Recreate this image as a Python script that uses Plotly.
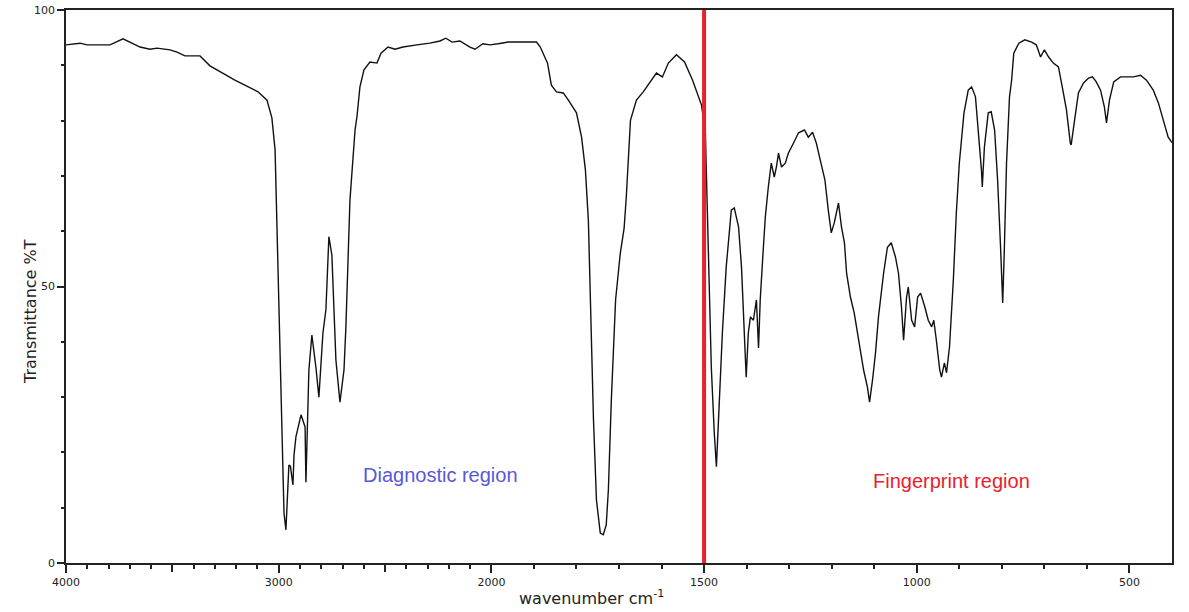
import plotly.graph_objects as go

# IR spectrum: wavenumber (cm-1) and % transmittance
wavenumber = [
    4000, 3934, 3901, 3793, 3732, 3652, 3605, 3572, 3511, 3478, 3441, 3370, 3323,
    3276, 3206, 3159, 3097, 3055, 3032, 3017, 2994, 2985, 2975, 2966, 2952, 2945,
    2933, 2928, 2919, 2895, 2876, 2872, 2867, 2858, 2844, 2825, 2811, 2792, 2778,
    2764, 2750, 2731, 2712, 2693, 2684, 2665, 2641, 2632, 2618, 2599, 2571, 2538,
    2519, 2486, 2453, 2416, 2350, 2289, 2242, 2214, 2185, 2148, 2101, 2077, 2040,
    2007, 1984, 1960, 1894, 1885, 1868, 1859, 1847, 1831, 1819, 1800, 1788, 1779,
    1772, 1765, 1760, 1753, 1744, 1737, 1730, 1725, 1718, 1708, 1697, 1688, 1683,
    1673, 1659, 1643, 1626, 1612, 1598, 1584, 1565, 1546, 1527, 1513, 1506, 1497,
    1494, 1487, 1483, 1476, 1471, 1464, 1457, 1448, 1436, 1429, 1419, 1412, 1408,
    1403, 1401, 1396, 1391, 1384, 1377, 1372, 1368, 1361, 1356, 1349, 1342, 1335,
    1330, 1325, 1318, 1309, 1302, 1290, 1278, 1264, 1255, 1245, 1236, 1227, 1216,
    1208, 1201, 1194, 1184, 1177, 1170, 1165, 1156, 1147, 1137, 1125, 1116, 1111,
    1104, 1097, 1090, 1078, 1069, 1060, 1050, 1043, 1036, 1031, 1024, 1020, 1012,
    1005, 998, 991, 981, 973, 965, 960, 954, 946, 942, 935, 930, 923, 914, 907,
    900, 889, 879, 871, 862, 855, 848, 846, 841, 832, 825, 817, 810, 803, 798, 794,
    789, 782, 777, 772, 760, 746, 730, 719, 709, 700, 690, 679, 667, 658, 648, 639,
    637, 629, 620, 608, 596, 587, 578, 568, 559, 554, 547, 537, 521, 491, 474, 460,
    444, 432, 420, 409, 400,
]
transmittance = [
    93.7, 94.0, 93.7, 93.7, 94.8, 93.3, 92.9, 93.1, 92.8, 92.4, 91.7, 91.7, 89.9,
    88.8, 87.3, 86.4, 85.2, 83.7, 80.5, 74.7, 37.1, 19.9, 9.0, 6.0, 17.7, 17.5,
    14.1, 19.5, 22.8, 26.8, 24.6, 14.6, 22.2, 34.9, 41.2, 35.4, 30.0, 41.6, 45.8,
    59.0, 55.7, 36.7, 29.1, 34.9, 42.7, 65.6, 78.3, 80.7, 86.1, 89.2, 90.6, 90.4,
    92.2, 93.3, 92.9, 93.3, 93.7, 94.0, 94.4, 94.9, 94.2, 94.4, 93.3, 92.9, 93.9,
    93.7, 93.9, 94.2, 94.2, 93.3, 90.4, 86.4, 85.2, 85.0, 83.7, 81.4, 77.0, 71.1,
    62.0, 42.1, 25.9, 11.4, 5.4, 5.1, 6.9, 13.2, 29.5, 47.6, 56.0, 60.5, 66.0,
    80.1, 83.7, 85.2, 87.0, 88.6, 87.9, 90.4, 91.9, 90.6, 87.3, 84.3, 82.8, 77.9,
    68.7, 49.9, 35.4, 23.5, 17.4, 29.5, 41.6, 53.5, 63.8, 64.2, 60.8, 53.5, 46.3,
    38.0, 33.6, 41.6, 44.5, 43.9, 47.6, 38.9, 47.6, 56.6, 62.6, 68.0, 72.3, 69.8,
    71.6, 74.1, 71.6, 72.3, 74.1, 75.9, 77.8, 78.3, 77.0, 77.9, 75.9, 72.9, 69.3,
    63.8, 59.7, 61.5, 65.1, 60.8, 57.9, 52.4, 48.1, 45.2, 40.3, 34.9, 31.8, 29.1,
    33.1, 38.0, 44.5, 52.4, 57.1, 57.9, 55.3, 52.4, 46.3, 40.3, 48.1, 49.9, 43.9,
    42.7, 48.1, 48.8, 46.3, 43.9, 42.7, 43.9, 40.3, 34.9, 33.6, 36.2, 34.4, 39.1,
    51.2, 63.3, 72.3, 81.4, 85.5, 86.1, 84.3, 78.3, 71.1, 68.0, 75.2, 81.4, 81.6,
    78.3, 69.3, 57.1, 47.0, 57.1, 72.3, 84.3, 87.3, 92.2, 94.0, 94.6, 94.2, 93.7,
    91.5, 92.8, 91.5, 90.4, 89.7, 86.1, 81.9, 75.9, 75.6, 80.1, 85.0, 86.8, 87.7,
    87.9, 87.0, 85.5, 82.5, 79.6, 83.7, 87.0, 87.9, 87.9, 88.2, 87.3, 85.5, 83.2,
    80.1, 77.0, 76.0,
]

labelled_ticks = [4000, 3000, 2000, 1500, 1000, 500]
unlabelled_ticks = [3500, 2500]
minor_ticks = [w for w in range(3900, 400, -100) if w % 500 != 0]
y_ticks = [0, 50, 100]
divider = 1500


def scale(w):
    """Wavenumber axis: the 4000-2000 span is drawn at half the scale of 2000-400."""
    return (4000 - w) / 2 if w >= 2000 else 1000 + (2000 - w)


xs = [scale(w) for w in wavenumber]
x_range = [scale(4000), scale(400)]
ink = "#222222"
tick_font = dict(family="DejaVu Sans", size=11, color=ink)

fig = go.Figure()
fig.add_trace(go.Scatter(
    x=xs, y=transmittance, mode="lines",
    line=dict(color="#111111", width=1.4),
    hoverinfo="skip", showlegend=False,
))

fig.add_shape(type="line", xref="x", yref="y",
              x0=scale(divider), x1=scale(divider), y0=0, y1=100,
              line=dict(color="#e8212b", width=4))

fig.update_layout(
    width=1189, height=612,
    margin=dict(l=66, r=17, t=10, b=49),
    paper_bgcolor="white", plot_bgcolor="white",
    xaxis=dict(
        range=x_range, automargin=False,
        tickmode="array",
        tickvals=[scale(w) for w in labelled_ticks],
        ticktext=[str(w) for w in labelled_ticks],
        ticks="outside", ticklen=8, tickwidth=1.5, tickcolor=ink,
        minor=dict(tickmode="array", tickvals=[scale(w) for w in minor_ticks],
                   ticks="outside", ticklen=4, tickwidth=1.5, tickcolor=ink,
                   showgrid=False),
        showline=True, linecolor=ink, linewidth=1.5, mirror=True,
        showgrid=False, zeroline=False, tickfont=tick_font,
    ),
    # second bottom axis carries the long unlabelled ticks at 3500 and 2500
    xaxis2=dict(
        overlaying="x", matches="x", anchor="y", side="bottom",
        range=x_range, automargin=False,
        tickmode="array", tickvals=[scale(w) for w in unlabelled_ticks],
        ticks="outside", ticklen=8, tickwidth=1.5, tickcolor=ink,
        showticklabels=False, showline=False, showgrid=False, zeroline=False,
    ),
    yaxis=dict(
        range=[0, 100], automargin=False,
        tickmode="array", tickvals=y_ticks, ticktext=[str(v) for v in y_ticks],
        ticks="outside", ticklen=7, tickwidth=1.5, tickcolor=ink,
        minor=dict(dtick=10, tick0=0, ticks="outside", ticklen=3, tickwidth=1.5,
                   tickcolor=ink, showgrid=False),
        showline=True, linecolor=ink, linewidth=1.5, mirror=True,
        showgrid=False, zeroline=False, tickfont=tick_font,
    ),
    annotations=[
        dict(text="wavenumber cm<sup>-1</sup>", xref="paper", yref="paper",
             x=(591 - 66) / 1106, y=-0.062, xanchor="center", yanchor="middle",
             showarrow=False, font=dict(family="DejaVu Sans", size=16, color=ink)),
        dict(text="Transmittance %T", xref="paper", yref="paper",
             x=(30 - 66) / 1106, y=(563 - 312) / 553, xanchor="center", yanchor="middle",
             textangle=-90, showarrow=False,
             font=dict(family="DejaVu Sans", size=16, color=ink)),
        dict(text="Diagnostic region", xref="paper", yref="paper",
             x=(440 - 66) / 1106, y=(563 - 475) / 553, xanchor="center", yanchor="middle",
             showarrow=False,
             font=dict(family="Liberation Sans", size=20, color="#5858d8")),
        dict(text="Fingerprint region", xref="paper", yref="paper",
             x=(951 - 66) / 1106, y=(563 - 481) / 553, xanchor="center", yanchor="middle",
             showarrow=False,
             font=dict(family="Liberation Sans", size=20, color="#e8212b")),
    ],
)

# an invisible trace binds the second bottom axis so its ticks are drawn
fig.add_trace(go.Scatter(x=[xs[0]], y=[transmittance[0]], xaxis="x2", mode="markers",
                         marker=dict(opacity=0), hoverinfo="skip", showlegend=False))

fig.write_html("out.html")
